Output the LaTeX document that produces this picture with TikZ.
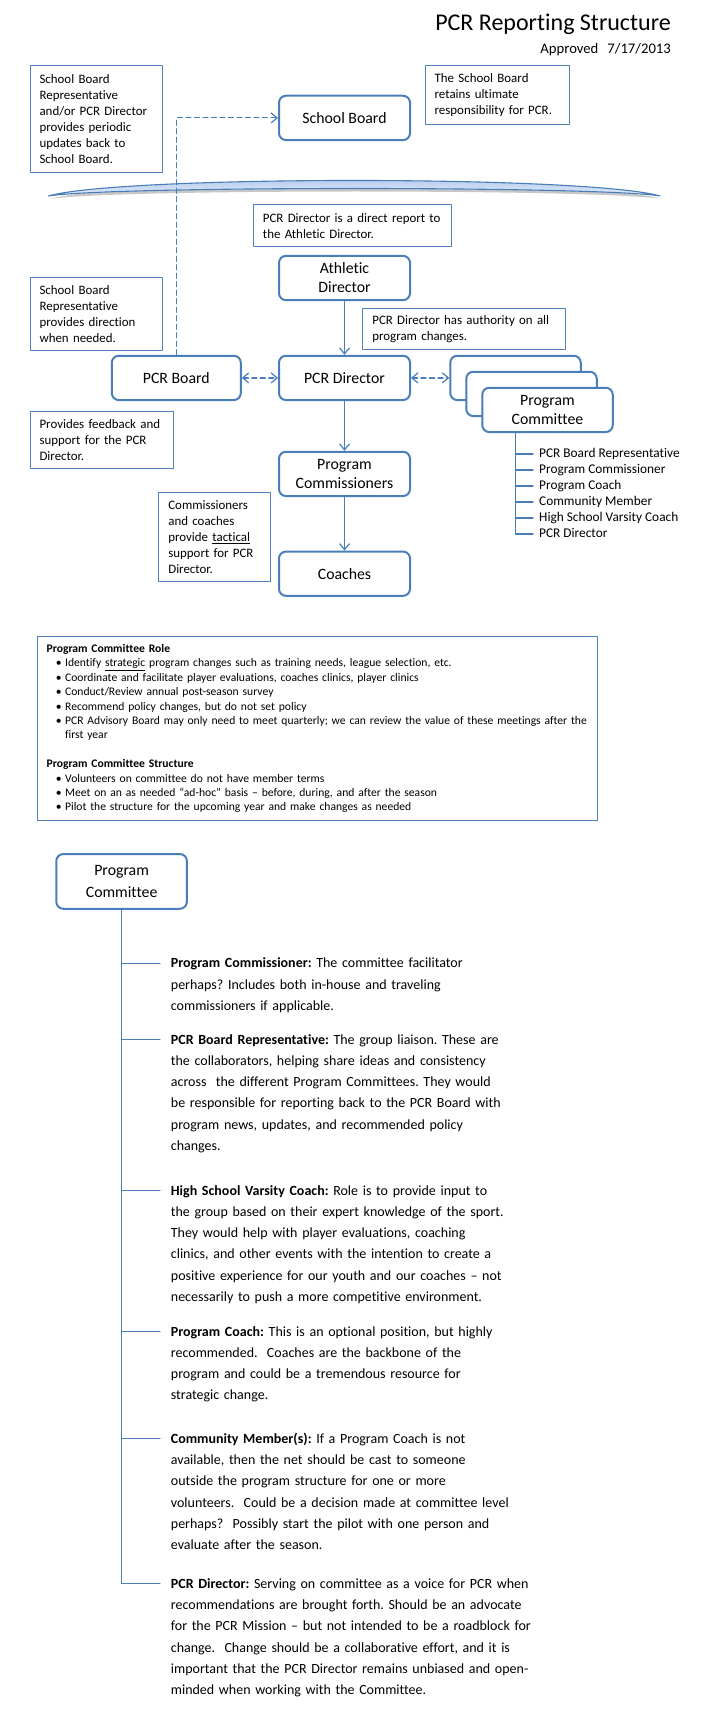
\documentclass[tikz,border=0pt]{standalone}
\usepackage{fontspec}
\setmainfont{Carlito}[Ligatures=NoCommon]
\usetikzlibrary{arrows.meta, calc}
\definecolor{pcrblue}{HTML}{4A7EBB}
\definecolor{noteblue}{HTML}{4F81BD}
\definecolor{arcdark}{HTML}{A9C3EA}
\definecolor{arclight}{HTML}{E6EEFA}
\newcommand{\rolebullet}[1]{\hspace*{9.3pt}\makebox[9.2pt][l]{\textbullet}\mbox{#1}}
\frenchspacing
\tikzset{
  >={Straight Barb[length=6pt, width=10pt]},
  every picture/.style={line cap=round, line join=round},
  orgbox/.style={draw=pcrblue, line width=2pt, rounded corners=7pt, fill=white,
    minimum width=131pt, minimum height=44.3pt, align=center, inner sep=2pt,
    font=\fontsize{15.8}{19}\selectfont},
  link/.style={draw=pcrblue, line width=1.2pt},
  dlink/.style={link, dash pattern=on 5pt off 3.5pt},
  % text boxes: text width and height in px
  note/.style 2 args={draw=noteblue, line width=1.1pt, anchor=north west, align=left,
    inner xsep=9.5pt, inner ysep=0pt, text width=#1pt, minimum height=#2pt,
    font=\fontsize{12.9}{16}\selectfont},
  member/.style={anchor=west, inner xsep=6pt, inner ysep=0pt, text height=9pt,
    text depth=3pt, font=\fontsize{13.33}{16}\selectfont},
  role/.style={anchor=base west, inner sep=0pt, text width=420pt, align=left,
    font=\fontsize{14}{21.3}\selectfont},
}
\begin{document}
\begin{tikzpicture}[x=1pt, y=-1pt]
  \path[use as bounding box, fill=white] (0,0) rectangle (720,1728);
  % heading
  \node[anchor=base east, inner sep=0pt, font=\fontsize{24}{29}\selectfont] (title) at (671,31) {PCR Reporting Structure};
  \node[anchor=base east, inner sep=0pt, font=\fontsize{14.67}{18}\selectfont] (approved) at (671,53.3) {Approved\hspace{9pt}7/17/2013};

  % divider below the school board
  \fill[black, opacity=0.22, shift={(1.5,3)}] (48.5,196) .. controls (120,175.3) and (588,175.3) .. (660,196)
    .. controls (600,186) and (108,186) .. (48.5,196) -- cycle;
  \draw[draw=pcrblue, line width=1.1pt, top color=arcdark, bottom color=arclight] (48.5,196) .. controls (120,175.3) and (588,175.3) .. (660,196)
    .. controls (600,186) and (108,186) .. (48.5,196) -- cycle;

  % reporting chain
  \node[orgbox] (board) at (344.5,117.9) {School Board};
  \node[orgbox] (athletic) at (344.5,278) {Athletic\\Director};
  \node[orgbox] (director) at (344.5,377.9) {PCR Director};
  \node[orgbox, minimum width=129pt] (pcrboard) at (176.3,377.9) {PCR Board};
  \node[orgbox] (commish) at (344.5,473.9) {Program\\Commissioners};
  \node[orgbox] (coaches) at (344.5,573.7) {Coaches};
  % one box for each program committee
  \node[orgbox, minimum width=130.5pt] (pcback) at (515.5,377.9) {};
  \node[orgbox, minimum width=130.5pt] (pcmid) at ($(pcback)+(16,16)$) {};
  \node[orgbox, minimum width=130.5pt] (pcfront) at ($(pcback)+(32,32)$) {Program\\Committee};

  % side notes
  \node[note={113}{107}] (updates) at (29.5,65.3) {School Board\\Representative\\and/or PCR Director\\provides periodic\\updates back to\\School Board.};
  \node[note={125}{59}] (ultimate) at (424.6,65.3) {The School Board\\retains ultimate\\responsibility for PCR.};
  \node[note={179}{41.7}] (reports) at (252.9,204.3) {PCR Director is a direct report to\\the Athletic Director.};
  \node[note={113}{73.6}] (direction) at (29.5,276.7) {School Board\\Representative\\provides direction\\when needed.};
  \node[note={184}{41.6}] (authority) at (362.3,307.7) {PCR Director has authority on all\\program changes.};
  \node[note={124.5}{57.6}] (feedback) at (29.5,410.7) {Provides feedback and\\support for the PCR\\Director.};
  \node[note={92.7}{89.3}] (tactical) at (158.3,491.7) {Commissioners\\and coaches\\provide \underline{tactical}\\support for PCR\\Director.};

  \draw[dlink, ->] (pcrboard.north) |- (board.west);
  \draw[link, ->] (athletic) -- (director);
  \draw[link, ->] (director) -- (commish);
  \draw[link, ->] (commish) -- (coaches);
  \draw[dlink, <->] (pcrboard) -- (director);
  \draw[dlink, <->] (director) -- (pcback);

  % committee members
  \coordinate (memtrunk) at (pcback.center |- pcfront.south);
  \foreach \who [count=\i] in {PCR Board Representative, Program Commissioner, Program Coach,
      Community Member, High School Varsity Coach, PCR Director}
    \node[member] (mem\i) at (533,438+16*\i) {\who};
  \draw[link] (memtrunk) |- (mem6.west);
  \foreach \i in {1,...,5}
    \draw[link] (memtrunk |- mem\i.west) -- (mem\i.west);

  % role and structure
  \node[note={541.4}{184.3}, inner xsep=9.2pt, font=\fontsize{11.6}{14.4}\selectfont] (rolebox) at (36.9,636) {%
    \textbf{Program Committee Role}\\
    \rolebullet{Identify \underline{strategic} program changes such as training needs, league selection, etc.}\\
    \rolebullet{Coordinate and facilitate player evaluations, coaches clinics, player clinics}\\
    \rolebullet{Conduct/Review annual post-season survey}\\
    \rolebullet{Recommend policy changes, but do not set policy}\\
    \rolebullet{PCR Advisory Board may only need to meet quarterly; we can review the value of these meetings after the}\\
    \hspace*{18.5pt}first year\\[14.4pt]
    \textbf{Program Committee Structure}\\
    \rolebullet{Volunteers on committee do not have member terms}\\
    \rolebullet{Meet on an as needed “ad-hoc” basis – before, during, and after the season}\\
    \rolebullet{Pilot the structure for the upcoming year and make changes as needed}};

  % committee seats
  \node[orgbox, minimum width=130.6pt, minimum height=54.7pt, font=\fontsize{15.8}{22.7}\selectfont] (committee) at (121.6,881.4) {Program\\Committee};
  \node[role] (duty1) at (170.7,967.7) {\textbf{Program Commissioner:} The committee facilitator\\perhaps? Includes both in-house and traveling\\commissioners if applicable.};
  \node[role] (duty2) at (170.7,1044) {\textbf{PCR Board Representative:} The group liaison. These are\\the collaborators, helping share ideas and consistency\\across\ \ the different Program Committees. They would\\be responsible for reporting back to the PCR Board with\\program news, updates, and recommended policy\\changes.};
  \node[role] (duty3) at (170.7,1195) {\textbf{High School Varsity Coach:} Role is to provide input to\\the group based on their expert knowledge of the sport.\\They would help with player evaluations, coaching\\clinics, and other events with the intention to create a\\positive experience for our youth and our coaches – not\\necessarily to push a more competitive environment.};
  \node[role] (duty4) at (170.7,1336) {\textbf{Program Coach:} This is an optional position, but highly\\recommended.\ \ Coaches are the backbone of the\\program and could be a tremendous resource for\\strategic change.};
  \node[role] (duty5) at (170.7,1443.3) {\textbf{Community Member(s):} If a Program Coach is not\\available, then the net should be cast to someone\\outside the program structure for one or more\\volunteers.\ \ Could be a decision made at committee level\\perhaps?\ \ Possibly start the pilot with one person and\\evaluate after the season.};
  \node[role] (duty6) at (170.7,1588.3) {\textbf{PCR Director:} Serving on committee as a voice for PCR when\\recommendations are brought forth. Should be an advocate\\for the PCR Mission – but not intended to be a roadblock for\\change.\ \ Change should be a collaborative effort, and it is\\important that the PCR Director remains unbiased and open-\\minded when working with the Committee.};
  \foreach \i in {1,...,6}
    \coordinate (tick\i) at ([xshift=-10.7pt, yshift=4.5pt]duty\i.base west);
  \draw[link] (committee.south) |- (tick6);
  \foreach \i in {1,...,5}
    \draw[link] (committee.south |- tick\i) -- (tick\i);
\end{tikzpicture}
\end{document}
